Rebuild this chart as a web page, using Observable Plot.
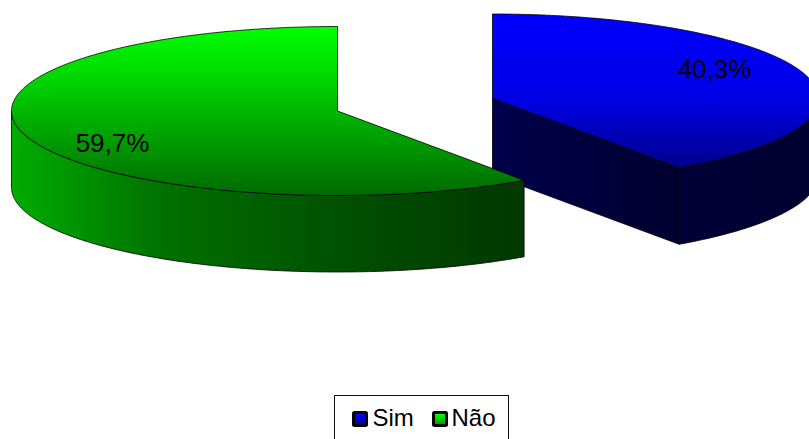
<!DOCTYPE html>
<html lang="pt">
<head>
<meta charset="utf-8">
<script src="https://cdn.jsdelivr.net/npm/d3@7"></script>
<script src="https://cdn.jsdelivr.net/npm/@observablehq/plot@0.6"></script>
<style>
html,body{margin:0;padding:0;background:#fff;overflow:hidden;width:809px;height:439px}
#chart{position:absolute;left:0;top:0;line-height:0}
#legend{position:absolute;left:333.5px;top:395px;width:173px;height:60px;border:1.5px solid #111;box-sizing:content-box;background:#fff;
  font-family:"Liberation Sans",Arial,sans-serif;font-size:24px;color:#000}
#legend .sw{position:absolute;top:15px;width:10px;height:10px;border:3px solid #000;border-radius:2.5px}
#legend .lb{position:absolute;top:8px;line-height:28px}
</style>
</head>
<body>
<div id="chart"></div>
<div id="legend"></div>
<script>
const categories = ["Sim", "Não"];
const shares = [40.3, 59.7];
const labelX = [714, 112];
const labelY = [69, 143];

const W = 809, H = 395;
const rx = 326, ry = 84.5, depth = 76.5;
const centers = [{cx: 492, cy: 98}, {cx: 337, cy: 110.5}];
const RAD = Math.PI / 180;

// Screen-space parametric angle (degrees, 0 = right, clockwise on screen)
const splitAngle = -90 + shares[0] * 3.6;   // where the Sim slice ends, clockwise from the top

function arc(c, a0, a1, dy = 0) {
  const n = Math.max(2, Math.ceil(Math.abs(a1 - a0) * 2));
  return d3.range(n + 1).map(i => {
    const a = (a0 + (a1 - a0) * i / n) * RAD;
    return {x: c.cx + rx * Math.cos(a), y: c.cy + ry * Math.sin(a) + dy};
  });
}
const center = (c, dy = 0) => ({x: c.cx, y: c.cy + dy});
const closed = pts => [...pts, pts[0]];

const [sim, nao] = centers;
const simTop = closed([center(sim), ...arc(sim, -90, splitAngle)]);
const simRim = closed([...arc(sim, 0, splitAngle), ...arc(sim, splitAngle, 0, depth)]);
const simEnd = closed([center(sim), arc(sim, splitAngle, splitAngle)[0], arc(sim, splitAngle, splitAngle, depth)[0], center(sim, depth)]);
const naoTop = closed([center(nao), ...arc(nao, splitAngle, 270)]);
const naoRim = closed([...arc(nao, splitAngle, 180), ...arc(nao, 180, splitAngle, depth)]);

const gradient = (id, horizontal, stops) =>
  `<linearGradient id="${id}" x1="0" y1="0" x2="${horizontal ? 1 : 0}" y2="${horizontal ? 0 : 1}">` +
  stops.map(([o, c]) => `<stop offset="${o}" stop-color="${c}"/>`).join("") + `</linearGradient>`;

const defs = () => {
  const g = document.createElementNS("http://www.w3.org/2000/svg", "g");
  g.innerHTML = "<defs>" +
    gradient("blueTop", false, [[0, "#0000ff"], [0.55, "#0000e6"], [1, "#00008c"]]) +
    gradient("blueRim", true, [[0, "#000038"], [1, "#000030"]]) +
    gradient("blueEnd", true, [[0, "#00004c"], [1, "#000030"]]) +
    gradient("greenTop", false, [[0, "#00ff00"], [0.35, "#00d000"], [1, "#006a00"]]) +
    gradient("greenRim", true, [[0, "#00ad00"], [0.3, "#007000"], [0.65, "#005000"], [1, "#003800"]]) +
    "</defs>";
  return g;
};

const face = (data, fill) => Plot.line(data, {x: "x", y: "y", fill, stroke: "#000", strokeWidth: 0.8, curve: "linear", strokeLinejoin: "round"});

const labels = shares.map((v, i) => ({
  x: labelX[i], y: labelY[i], t: v.toFixed(1).replace(".", ",") + "%"
}));

const plot = Plot.plot({
  width: W, height: H,
  margin: 0,
  x: {domain: [0, W], range: [0, W], axis: null},
  y: {domain: [0, H], range: [0, H], axis: null},
  style: {background: "transparent", overflow: "hidden"},
  marks: [
    defs,
    face(simEnd, "url(#blueEnd)"),
    face(simRim, "url(#blueRim)"),
    face(simTop, "url(#blueTop)"),
    face(naoRim, "url(#greenRim)"),
    face(naoTop, "url(#greenTop)"),
    Plot.text(labels, {x: "x", y: "y", text: "t", fill: "#000", fontSize: 26, fontFamily: "Liberation Sans, Arial, sans-serif", textAnchor: "middle", lineAnchor: "middle"})
  ]
});
document.getElementById("chart").append(plot);

const legendColors = ["linear-gradient(#0000ff,#0000a0)", "linear-gradient(#00ff00,#00a000)"];
const swLeft = [17, 97], lbLeft = [38, 117];
const legend = document.getElementById("legend");
categories.forEach((c, i) => {
  const s = document.createElement("span");
  s.className = "sw"; s.style.left = swLeft[i] + "px"; s.style.background = legendColors[i];
  const l = document.createElement("span");
  l.className = "lb"; l.style.left = lbLeft[i] + "px"; l.textContent = c;
  legend.append(s, l);
});
</script>
</body>
</html>
